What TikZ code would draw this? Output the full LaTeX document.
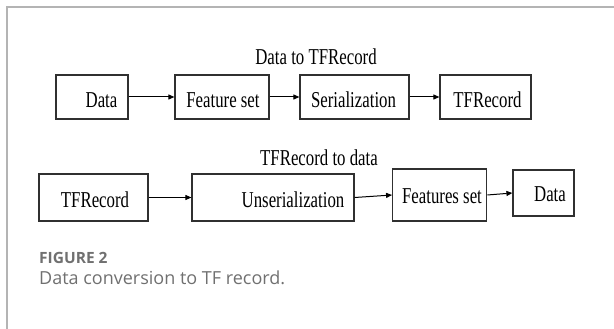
\documentclass[tikz,border=0pt]{standalone}
\usepackage{fontspec}
\usepackage{graphicx}
\setmainfont{Liberation Serif}
\newfontfamily\capfont{Open Sans}
\usetikzlibrary{arrows.meta}
\definecolor{framegray}{HTML}{B4B4B4}
\definecolor{capgray}{HTML}{707070}
\definecolor{boxline}{HTML}{303030}
% diagram labels are set in a horizontally condensed serif
\newcommand{\narrow}[1]{\scalebox{0.74}[1]{#1}}
\begin{document}
\begin{tikzpicture}[x=1pt,y=-1pt,
  box/.style={draw=boxline, line width=1.2pt, inner sep=0pt},
  lbl/.style={anchor=base, inner sep=0pt, font=\fontsize{22.7}{24}\selectfont},
  flow/.style={draw=black, line width=1pt, -{Triangle[length=6pt,width=5pt]}},
  caplabel/.style={anchor=base west, inner sep=0pt, text=capgray}]
\useasboundingbox (0,0) rectangle (614,329);

% panel frame
\draw[framegray, line width=1.5pt] (7,329) -- (7,7) -- (614,7);

% ---- Data to TFRecord ----
\node[lbl] (title1) at (316,65) {\narrow{Data to TFRecord}};
\node[box, minimum width=72pt, minimum height=44pt] (data1) at (92,97) {};
\node[box, minimum width=94pt, minimum height=44pt] (feat1) at (222,97) {};
\node[box, minimum width=109pt, minimum height=44pt] (ser1) at (354.5,97) {};
\node[box, minimum width=91pt, minimum height=44pt] (rec1) at (485.5,97) {};
\node[lbl] (data1t) at (101.5,107) {\narrow{Data}};
\node[lbl] (feat1t) at (223,107) {\narrow{Feature set}};
\node[lbl] (ser1t) at (353.5,107) {\narrow{Serialization}};
\node[lbl] (rec1t) at (487.5,107) {\narrow{TFRecord}};
\draw[flow] (data1.east) -- (feat1.west);
\draw[flow] (feat1.east) -- (ser1.west);
\draw[flow] (ser1.east) -- (rec1.west);

% ---- TFRecord to data ----
\node[lbl] (title2) at (319,165) {\narrow{TFRecord to data}};
\node[box, minimum width=109pt, minimum height=47pt] (rec2) at (93.5,197.5) {};
\node[box, minimum width=162pt, minimum height=47pt] (unser2) at (273,197.5) {};
\node[box, minimum width=94pt, minimum height=52pt] (feat2) at (439.7,195) {};
\node[box, minimum width=61pt, minimum height=46pt] (data2) at (543.5,193) {};
\node[lbl] (rec2t) at (95,207) {\narrow{TFRecord}};
\node[lbl] (unser2t) at (293,207) {\narrow{Unserialization}};
\node[lbl] (feat2t) at (442,203) {\narrow{Features set}};
\node[lbl] (data2t) at (550,201) {\narrow{Data}};
\draw[flow] (rec2.east) -- (unser2.west);
\draw[flow] (unser2.east) -- (feat2.west);
\draw[flow] (feat2.east) -- (data2.west);

% ---- caption ----
\node[caplabel, font=\capfont\bfseries\fontsize{15.5}{17}\selectfont] (figlabel) at (39,263) {FIGURE 2};
\node[caplabel, font=\capfont\fontsize{18}{21}\selectfont] (figcaption) at (39,284) {Data conversion to TF record.};
\end{tikzpicture}
\end{document}
